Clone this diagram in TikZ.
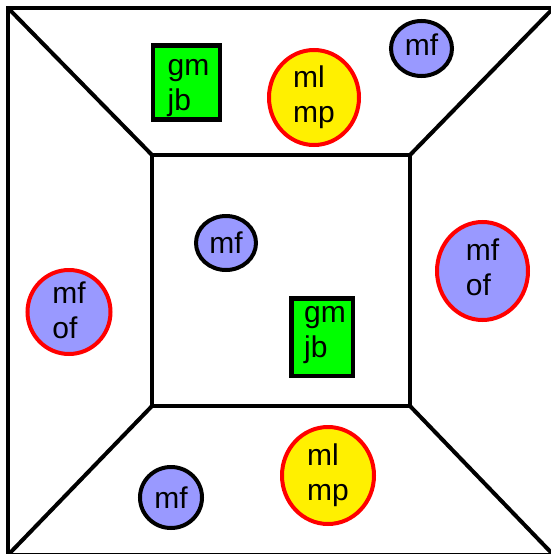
\documentclass[tikz,border=0pt]{standalone}
\usepackage{fontspec}
\setmainfont{Liberation Sans}
\usetikzlibrary{shapes.geometric}
\definecolor{mfblue}{HTML}{9999FF}
\definecolor{myellow}{HTML}{FFF000}
\definecolor{mgreen}{HTML}{00FF00}
\begin{document}
\begin{tikzpicture}[x=1pt,y=-1pt,
  frame/.style={line width=4pt, line join=miter},
  lbl/.style={align=left, font=\fontsize{30}{35}\selectfont, inner sep=0pt},
  bluecirc/.style={ellipse, draw=black, fill=mfblue, line width=4pt, inner sep=0pt},
  bluered/.style={ellipse, draw=red, fill=mfblue, line width=4pt, inner sep=0pt},
  yelcirc/.style={ellipse, draw=red, fill=myellow, line width=4pt, inner sep=0pt},
  greenbox/.style={rectangle, draw=black, fill=mgreen, line width=4.5pt, inner sep=0pt}]
\useasboundingbox (0,0) rectangle (550,554);
% frame corners
\coordinate (o1) at (8,8);
\coordinate (o2) at (553.5,8);
\coordinate (o3) at (553.5,555);
\coordinate (o4) at (8,555);
\coordinate (i1) at (152,155);
\coordinate (i2) at (410,155);
\coordinate (i3) at (410,406);
\coordinate (i4) at (152,406);
\draw[frame] (o1) -- (i1);
\draw[frame] (o2) -- (i2);
\draw[frame] (o3) -- (i3);
\draw[frame] (o4) -- (i4);
\draw[frame] (o1) rectangle (o3);
\draw[frame] (i1) rectangle (i3);
% nodes
\node[greenbox, minimum width=67pt, minimum height=74pt,
  label={[lbl, xshift=2pt, yshift=-3pt]center:{\strut gm\\\strut jb}}] (g1) at (186.5,82.5) {};
\node[yelcirc, minimum width=90pt, minimum height=95pt,
  label={[lbl]center:{\strut ml\\\strut mp}}] (y1) at (314,97.5) {};
\node[bluecirc, minimum width=61pt, minimum height=55pt,
  label={[lbl, yshift=4pt]center:{mf}}] (m1) at (421.5,48.5) {};
\node[bluecirc, minimum width=60pt, minimum height=54pt,
  label={[lbl]center:{mf}}] (m2) at (226,243) {};
\node[bluered, minimum width=91pt, minimum height=98pt,
  label={[lbl]center:{\strut mf\\\strut of}}] (r1) at (482.5,271) {};
\node[bluered, minimum width=83pt, minimum height=84pt,
  label={[lbl, yshift=-2pt]center:{\strut mf\\\strut of}}] (r2) at (69,312) {};
\node[greenbox, minimum width=61.5pt, minimum height=77.5pt,
  label={[lbl, xshift=3pt, yshift=4.5pt]center:{\strut gm\\\strut jb}}] (g2) at (322,337) {};
\node[bluecirc, minimum width=62pt, minimum height=61pt,
  label={[lbl]center:{mf}}] (m3) at (171,497.5) {};
\node[yelcirc, minimum width=92pt, minimum height=97pt,
  label={[lbl]center:{\strut ml\\\strut mp}}] (y2) at (328,475.5) {};
\end{tikzpicture}
\end{document}
